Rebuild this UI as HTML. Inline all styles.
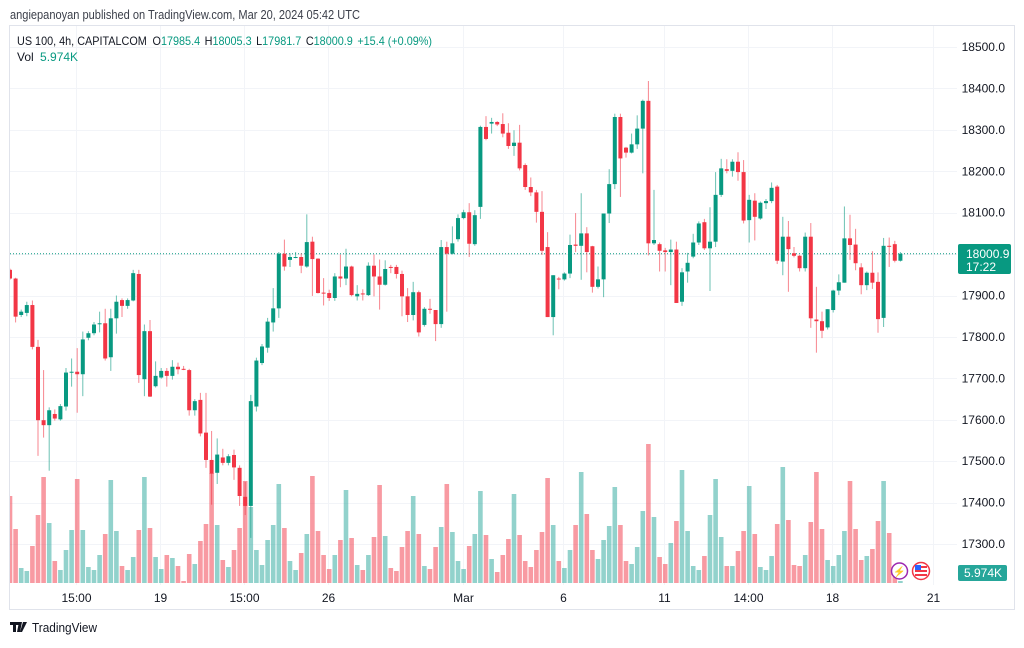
<!DOCTYPE html>
<html><head><meta charset="utf-8">
<style>
html,body{margin:0;padding:0;background:#fff;}
body{width:1024px;height:643px;overflow:hidden;font-family:"Liberation Sans",sans-serif;}
svg text{font-family:"Liberation Sans",sans-serif;}
</style></head>
<body>
<svg id="chart" width="1024" height="643" viewBox="0 0 1024 643" xmlns="http://www.w3.org/2000/svg">
  <defs><clipPath id="pane"><rect x="10" y="26" width="947" height="559"/></clipPath></defs>
  <rect x="0" y="0" width="1024" height="643" fill="#ffffff"/>
  <text x="10" y="19" font-size="12.5" fill="#3b3f4a" textLength="350" lengthAdjust="spacingAndGlyphs">angiepanoyan published on TradingView.com, Mar 20, 2024 05:42 UTC</text>
  <rect x="9.5" y="25.5" width="1005" height="584" fill="none" stroke="#e0e3eb"/>
  <g id="grid"></g>
  <g id="vols" clip-path="url(#pane)"></g>
  <g id="candles" clip-path="url(#pane)"></g>
  <g id="yaxis"></g>
  <g id="xaxis"></g>
  <text x="17" y="45" font-size="12" fill="#131722" textLength="415" lengthAdjust="spacingAndGlyphs">US 100, 4h, CAPITALCOM <tspan dx="3">O</tspan><tspan fill="#089981">17985.4</tspan><tspan dx="5">H</tspan><tspan fill="#089981">18005.3</tspan><tspan dx="5">L</tspan><tspan fill="#089981">17981.7</tspan><tspan dx="5">C</tspan><tspan fill="#089981">18000.9</tspan><tspan dx="5" fill="#089981">+15.4 (+0.09%)</tspan></text>
  <text x="17" y="61" font-size="12" fill="#131722">Vol <tspan dx="3" fill="#089981">5.974K</tspan></text>
  <g>
    <rect x="958" y="244" width="53" height="30" rx="2" fill="#089981"/>
    <text x="966" y="258" font-size="12" fill="#fff">18000.9</text>
    <text x="966" y="271" font-size="12" fill="#fff">17:22</text>
  </g>
  <g>
    <rect x="958" y="565" width="49" height="16" rx="2" fill="#26a69a"/>
    <text x="964" y="577" font-size="12" fill="#fff">5.974K</text>
  </g>
  <g>
    <circle cx="899.5" cy="571" r="8" fill="#fff" stroke="#9c27b0" stroke-width="1.5"/>
    <text x="899.5" y="575" font-size="10" fill="#9c27b0" text-anchor="middle">⚡</text>
  </g>
  <g>
    <circle cx="921" cy="571" r="8.5" fill="#fff" stroke="#f23645" stroke-width="1.5"/>
    <rect x="915" y="566" width="12" height="2" fill="#f23645"/>
    <rect x="915" y="570" width="12" height="2" fill="#f23645"/>
    <rect x="915" y="574" width="12" height="2" fill="#f23645"/>
    <rect x="915" y="565" width="6" height="5" fill="#2962ff"/>
  </g>
  <g>
    <path d="M10 622h9v3h-3v7h-3v-7h-3z M19 622h3l-2 10h-3z M23 622h4l-5 10h-2z" fill="#131722"/>
    <text x="32" y="632" font-size="13" fill="#131722" textLength="65" lengthAdjust="spacingAndGlyphs">TradingView</text>
  </g>
</svg>
<script>
const opens=[17962,17941,17853,17858,17877,17776,17599,17587,17614,17601,17632,17714,17716,17710,17798,17809,17833,17833,17751,17845,17889,17875,17888,17952,17698,17814,17681,17702,17718,17706,17728,17723,17720,17623,17648,17569,17503,17472,17509,17496,17515,17484,17414,17392,17632,17737,17774,17835,17869,18001,17986,17993,17993,17970,18030,17989,17907,17906,17894,17946,17941,17970,17898,17905,17901,17972,17946,17926,17969,17969,17952,17898,17853,17908,17829,17868,17865,17831,18017,18001,18036,18087,18101,18024,18114,18307,18315,18319,18314,18293,18261,18269,18215,18162,18149,18102,18017,17848,17941,17939,17953,18023,18020,18050,18019,17921,17939,18098,18169,18331,18257,18245,18265,18303,18370,18026,18024,18009,18005,18011,17885,17958,17994,18028,18077,18014,18030,18143,18205,18201,18223,18198,18082,18129,18086,18123,18128,18163,17982,18042,18002,17996,17966,18042,17842,17838,17823,17865,17912,17931,18038,18023,17968,17925,17955,17933,17846,18020,18024,17984];
const highs=[17965,17943,17866,17885,17888,17793,17720,17630,17625,17638,17725,17748,17773,17813,17814,17836,17861,17868,17868,17900,17893,17893,17962,17962,17830,17841,17741,17725,17725,17744,17738,17730,17723,17650,17665,17665,17573,17555,17530,17517,17528,17490,17450,17660,17750,17783,17846,17918,18005,18035,18002,18005,18002,18096,18042,17990,17942,17914,17954,17999,18013,17972,17925,17915,17980,17999,17987,17985,17974,17974,17960,17918,17933,17912,17872,17892,17865,18034,18030,18067,18096,18107,18123,18106,18310,18333,18329,18321,18340,18316,18299,18312,18219,18185,18155,18152,18053,17949,17945,17956,18047,18099,18147,18065,18020,17970,18098,18205,18339,18339,18259,18291,18335,18373,18418,18155,18028,18015,18035,18030,17966,18003,18049,18079,18085,18113,18198,18230,18229,18229,18246,18227,18143,18147,18127,18133,18173,18167,18090,18080,18017,17998,18052,18075,17921,17861,17867,17914,17951,18115,18095,18061,17978,17958,18007,17956,18039,18040,18032,18005];
const lows=[17938,17835,17848,17850,17770,17513,17557,17477,17598,17598,17622,17680,17617,17657,17792,17804,17811,17743,17718,17808,17848,17868,17886,17689,17657,17655,17678,17699,17680,17697,17710,17720,17610,17610,17560,17484,17395,17445,17490,17490,17455,17392,17370,17315,17620,17732,17762,17813,17846,17960,17969,17990,17954,17967,17899,17905,17876,17887,17887,17920,17925,17898,17888,17888,17899,17898,17866,17924,17954,17941,17850,17836,17840,17801,17825,17856,17790,17822,17861,17999,18030,18084,17993,18020,18085,18275,18291,18309,18282,18254,18237,18202,18155,18140,18076,17998,17848,17804,17915,17936,17942,18005,17938,17956,17907,17917,17896,18075,18157,18138,18233,18243,18254,18195,17997,18022,17958,17958,17925,17882,17875,17931,17990,18022,18010,17911,18017,18138,18195,18187,18177,18074,18028,18033,18083,18109,18123,17976,17949,17909,17992,17958,17958,17822,17762,17797,17818,17859,17901,17931,17986,17961,17903,17913,17916,17810,17824,17969,17980,17982];
const closes=[17941,17849,17861,17877,17776,17599,17587,17623,17603,17633,17714,17716,17710,17794,17809,17830,17833,17748,17845,17885,17875,17889,17954,17708,17814,17656,17706,17718,17706,17728,17722,17722,17623,17645,17567,17503,17470,17516,17496,17512,17485,17416,17392,17645,17743,17777,17837,17869,18001,17970,17993,17993,17972,18029,17988,17906,17905,17894,17946,17941,17970,17901,17904,17903,17972,17946,17926,17964,17967,17952,17898,17853,17908,17811,17868,17866,17831,18017,18001,18026,18087,18101,18025,18094,18307,18278,18319,18313,18291,18261,18269,18207,18162,18149,18102,18008,17848,17949,17939,17953,18022,18020,18050,18005,17921,17939,18098,18169,18331,18231,18245,18265,18303,18370,18026,18034,18008,18005,18011,17882,17956,17979,18028,18074,18014,18030,18143,18207,18201,18223,18198,18081,18131,18090,18124,18128,18160,17984,18042,18012,17996,17966,18042,17845,17838,17815,17867,17912,17932,18038,18022,17978,17925,17955,17931,17843,18020,18019,17984,18000.9];
const volumes=[87,54,15,12,37,68,106,60,22,13,33,53,104,53,16,13,28,49,103,52,17,13,26,53,106,55,26,14,28,25,17,2,29,19,42,59,110,58,23,16,33,55,102,76,33,18,43,58,99,55,22,13,30,49,107,52,28,14,28,43,93,45,18,13,28,46,98,47,15,12,36,52,87,49,17,14,36,56,99,51,22,14,37,49,92,48,24,11,28,44,89,48,22,16,33,51,105,58,22,15,33,58,111,69,33,24,43,57,96,58,22,19,36,72,139,66,26,19,40,62,113,52,17,13,27,68,104,46,17,17,32,52,97,49,16,13,27,59,116,63,18,17,28,61,111,54,23,17,28,52,102,54,23,27,34,62,102,50,14,2];
const priceTicks=[18500,18400,18300,18200,18100,18000,17900,17800,17700,17600,17500,17400,17300];
const timeTickLabels=["15:00","19","15:00","26","Mar","6","11","14:00","18","21"];
const timeTickIndex=[11.8,26.8,41.8,56.8,80.9,98.8,116.8,131.8,146.8,164.8];

const NS="http://www.w3.org/2000/svg";
const yScale=p=>47+(18500-p)*0.4142;
const xScale=i=>10+i*5.6;
const volBase=583;
const volScale=v=>v*1.0;
const GREEN="#089981",RED="#f23645";
function mk(tag,attrs,parent){const e=document.createElementNS(NS,tag);for(const k in attrs)e.setAttribute(k,attrs[k]);parent.appendChild(e);return e;}

const grid=document.getElementById('grid');
const yaxis=document.getElementById('yaxis');
priceTicks.forEach(p=>{
  const y=Math.round(yScale(p))+0.5;
  const l=mk('line',{x1:10,x2:957,y1:y,y2:y,stroke:'#f2f4f8','stroke-width':1},grid);
  
  
  const t=mk('text',{x:1005,y:yScale(p)+4,'font-size':12,fill:'#131722','text-anchor':'end'},yaxis);
  t.textContent=p.toFixed(1);
  
  
});
const xaxis=document.getElementById('xaxis');
timeTickLabels.forEach((lab,k)=>{
  const x=Math.round(xScale(timeTickIndex[k]))+0.5;
  const l=mk('line',{x1:x,x2:x,y1:26,y2:585,stroke:'#f2f4f8','stroke-width':1},grid);
  
  
  const t=mk('text',{x:x,y:602,'font-size':12,fill:'#131722','text-anchor':'middle'},xaxis);
  t.textContent=lab;
  
  
});
const lp=mk('line',{x1:10,x2:957,y1:yScale(18000.9),y2:yScale(18000.9),stroke:GREEN,'stroke-width':1,'stroke-dasharray':'1 2'},grid);



const vols=document.getElementById('vols');
const cg=document.getElementById('candles');
closes.forEach((c,i)=>{
  const o=opens[i],up=c>=o,col=up?GREEN:RED;
  const x=xScale(i);
  const h=volScale(volumes[i]);
  const vb=mk('rect',{x:x-2.3,y:volBase-h,width:4.6,height:h,fill:up?'#26a69a':'#f23645','fill-opacity':0.5},vols);
  
  
  const w=mk('line',{x1:x,x2:x,y1:yScale(highs[i]),y2:yScale(lows[i]),stroke:col,'stroke-width':1,'stroke-opacity':0.6},cg);
  
  
  const top=yScale(Math.max(o,c)),bh=Math.max(1,yScale(Math.min(o,c))-top);
  const b=mk('rect',{x:x-2,y:top,width:4,height:bh,fill:col},cg);
  
  
});
</script>
</body></html>
